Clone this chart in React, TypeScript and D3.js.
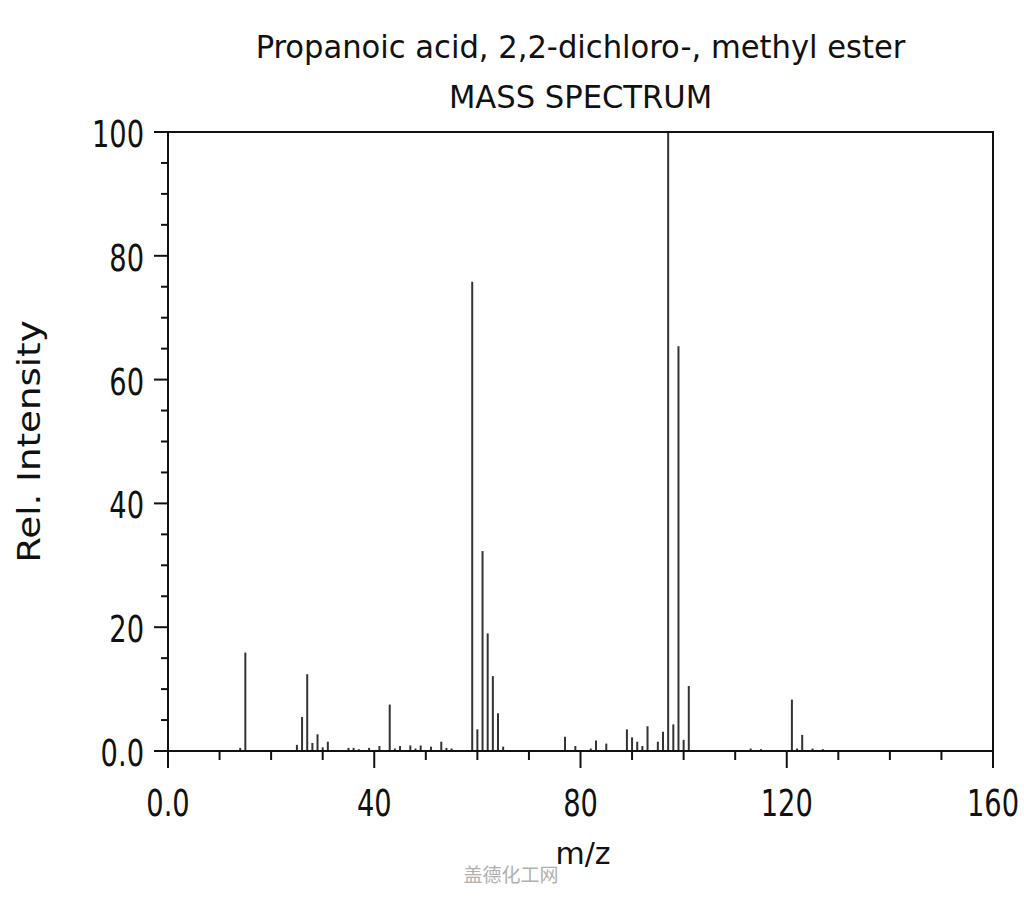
import React from "react";
import * as d3 from "d3";

const titleLines = ["Propanoic acid, 2,2-dichloro-, methyl ester", "MASS SPECTRUM"];
const mzValues = [14, 15, 25, 26, 27, 28, 29, 30, 31, 35, 36, 37, 39, 41, 43, 44, 45, 47, 48, 49, 51, 53, 54, 55, 59, 60, 61, 62, 63, 64, 65, 77, 79, 82, 83, 85, 89, 90, 91, 92, 93, 95, 96, 97, 98, 99, 100, 101, 113, 115, 121, 122, 123, 125, 127];
const intensities = [0.5, 15.9, 1.0, 5.5, 12.4, 1.3, 2.7, 0.6, 1.5, 0.5, 0.5, 0.3, 0.5, 0.8, 7.5, 0.4, 0.8, 0.9, 0.4, 0.9, 0.7, 1.5, 0.5, 0.4, 75.8, 3.5, 32.3, 19.0, 12.1, 6.1, 0.7, 2.3, 0.8, 0.4, 1.7, 1.2, 3.5, 2.2, 1.5, 0.8, 4.0, 1.5, 3.1, 100, 4.3, 65.4, 1.8, 10.5, 0.4, 0.3, 8.3, 0.4, 2.6, 0.4, 0.3];
const xMajorTicks = [0, 40, 80, 120, 160];
const xTickLabels = ["0.0", "40", "80", "120", "160"];
const yMajorTicks = [0, 20, 40, 60, 80, 100];
const yTickLabels = ["0.0", "20", "40", "60", "80", "100"];
const xLabel = "m/z";
const yLabel = "Rel. Intensity";
const watermark = "盖德化工网";

export default function App() {
  const left = 168, right = 993, top = 132, bottom = 751;
  const x = d3.scaleLinear().domain([0, 160]).range([left, right]);
  const y = d3.scaleLinear().domain([0, 100]).range([bottom, top]);
  const xMinor = d3.range(0, 161, 10).filter((v) => v % 40 !== 0);
  const yMinor = d3.range(0, 101, 5).filter((v) => v % 20 !== 0);
  const font = "'DejaVu Sans Condensed', 'DejaVu Sans', sans-serif";
  const cx = (left + right) / 2;
  const tickSX = 0.82;
  return (
    <svg width={1024} height={900} style={{ position: "absolute", left: 0, top: 0, background: "#fff" }} fontFamily={font}>
      <rect x={0} y={0} width={1024} height={900} fill="#fff" />
      <text transform={`translate(${cx}, 58) scale(1.08, 1)`} textAnchor="middle" fontSize={31.5} fill="#111">{titleLines[0]}</text>
      <text transform={`translate(${cx}, 108) scale(1.08, 1)`} textAnchor="middle" fontSize={31.5} fill="#111">{titleLines[1]}</text>
      {mzValues.map((m, i) => (
        <line key={i} x1={x(m)} x2={x(m)} y1={y(0)} y2={y(intensities[i])} stroke="#333" strokeWidth={2} />
      ))}
      <rect x={left} y={top} width={right - left} height={bottom - top} fill="none" stroke="#111" strokeWidth={2} />
      {yMajorTicks.map((v, i) => (
        <g key={"ym" + i}>
          <line x1={left - 14} x2={left} y1={y(v)} y2={y(v)} stroke="#111" strokeWidth={2} />
          <text transform={`translate(${left - 24}, ${y(v) + 15}) scale(${tickSX}, 1)`} textAnchor="end" fontSize={37} fill="#111">{yTickLabels[i]}</text>
        </g>
      ))}
      {yMinor.map((v) => (
        <line key={"yn" + v} x1={left - 7} x2={left} y1={y(v)} y2={y(v)} stroke="#111" strokeWidth={2} />
      ))}
      {xMajorTicks.map((v, i) => (
        <g key={"xm" + i}>
          <line x1={x(v)} x2={x(v)} y1={bottom} y2={bottom + 17} stroke="#111" strokeWidth={2} />
          <text transform={`translate(${x(v)}, 816) scale(${tickSX}, 1)`} textAnchor="middle" fontSize={37} fill="#111">{xTickLabels[i]}</text>
        </g>
      ))}
      {xMinor.map((v) => (
        <line key={"xn" + v} x1={x(v)} x2={x(v)} y1={bottom} y2={bottom + 9} stroke="#111" strokeWidth={2} />
      ))}
      <text x={583} y={864} textAnchor="middle" fontSize={30} fill="#111" fontFamily="'DejaVu Sans', sans-serif">{xLabel}</text>
      <text transform={`translate(40, ${(top + bottom) / 2}) rotate(-90) scale(1.29, 1)`} textAnchor="middle" fontSize={32} fill="#111">{yLabel}</text>
      <text x={511} y={882} textAnchor="middle" fontSize={19} fill="#b0b0b0" fontFamily="'Noto Sans CJK SC', sans-serif">{watermark}</text>
    </svg>
  );
}
